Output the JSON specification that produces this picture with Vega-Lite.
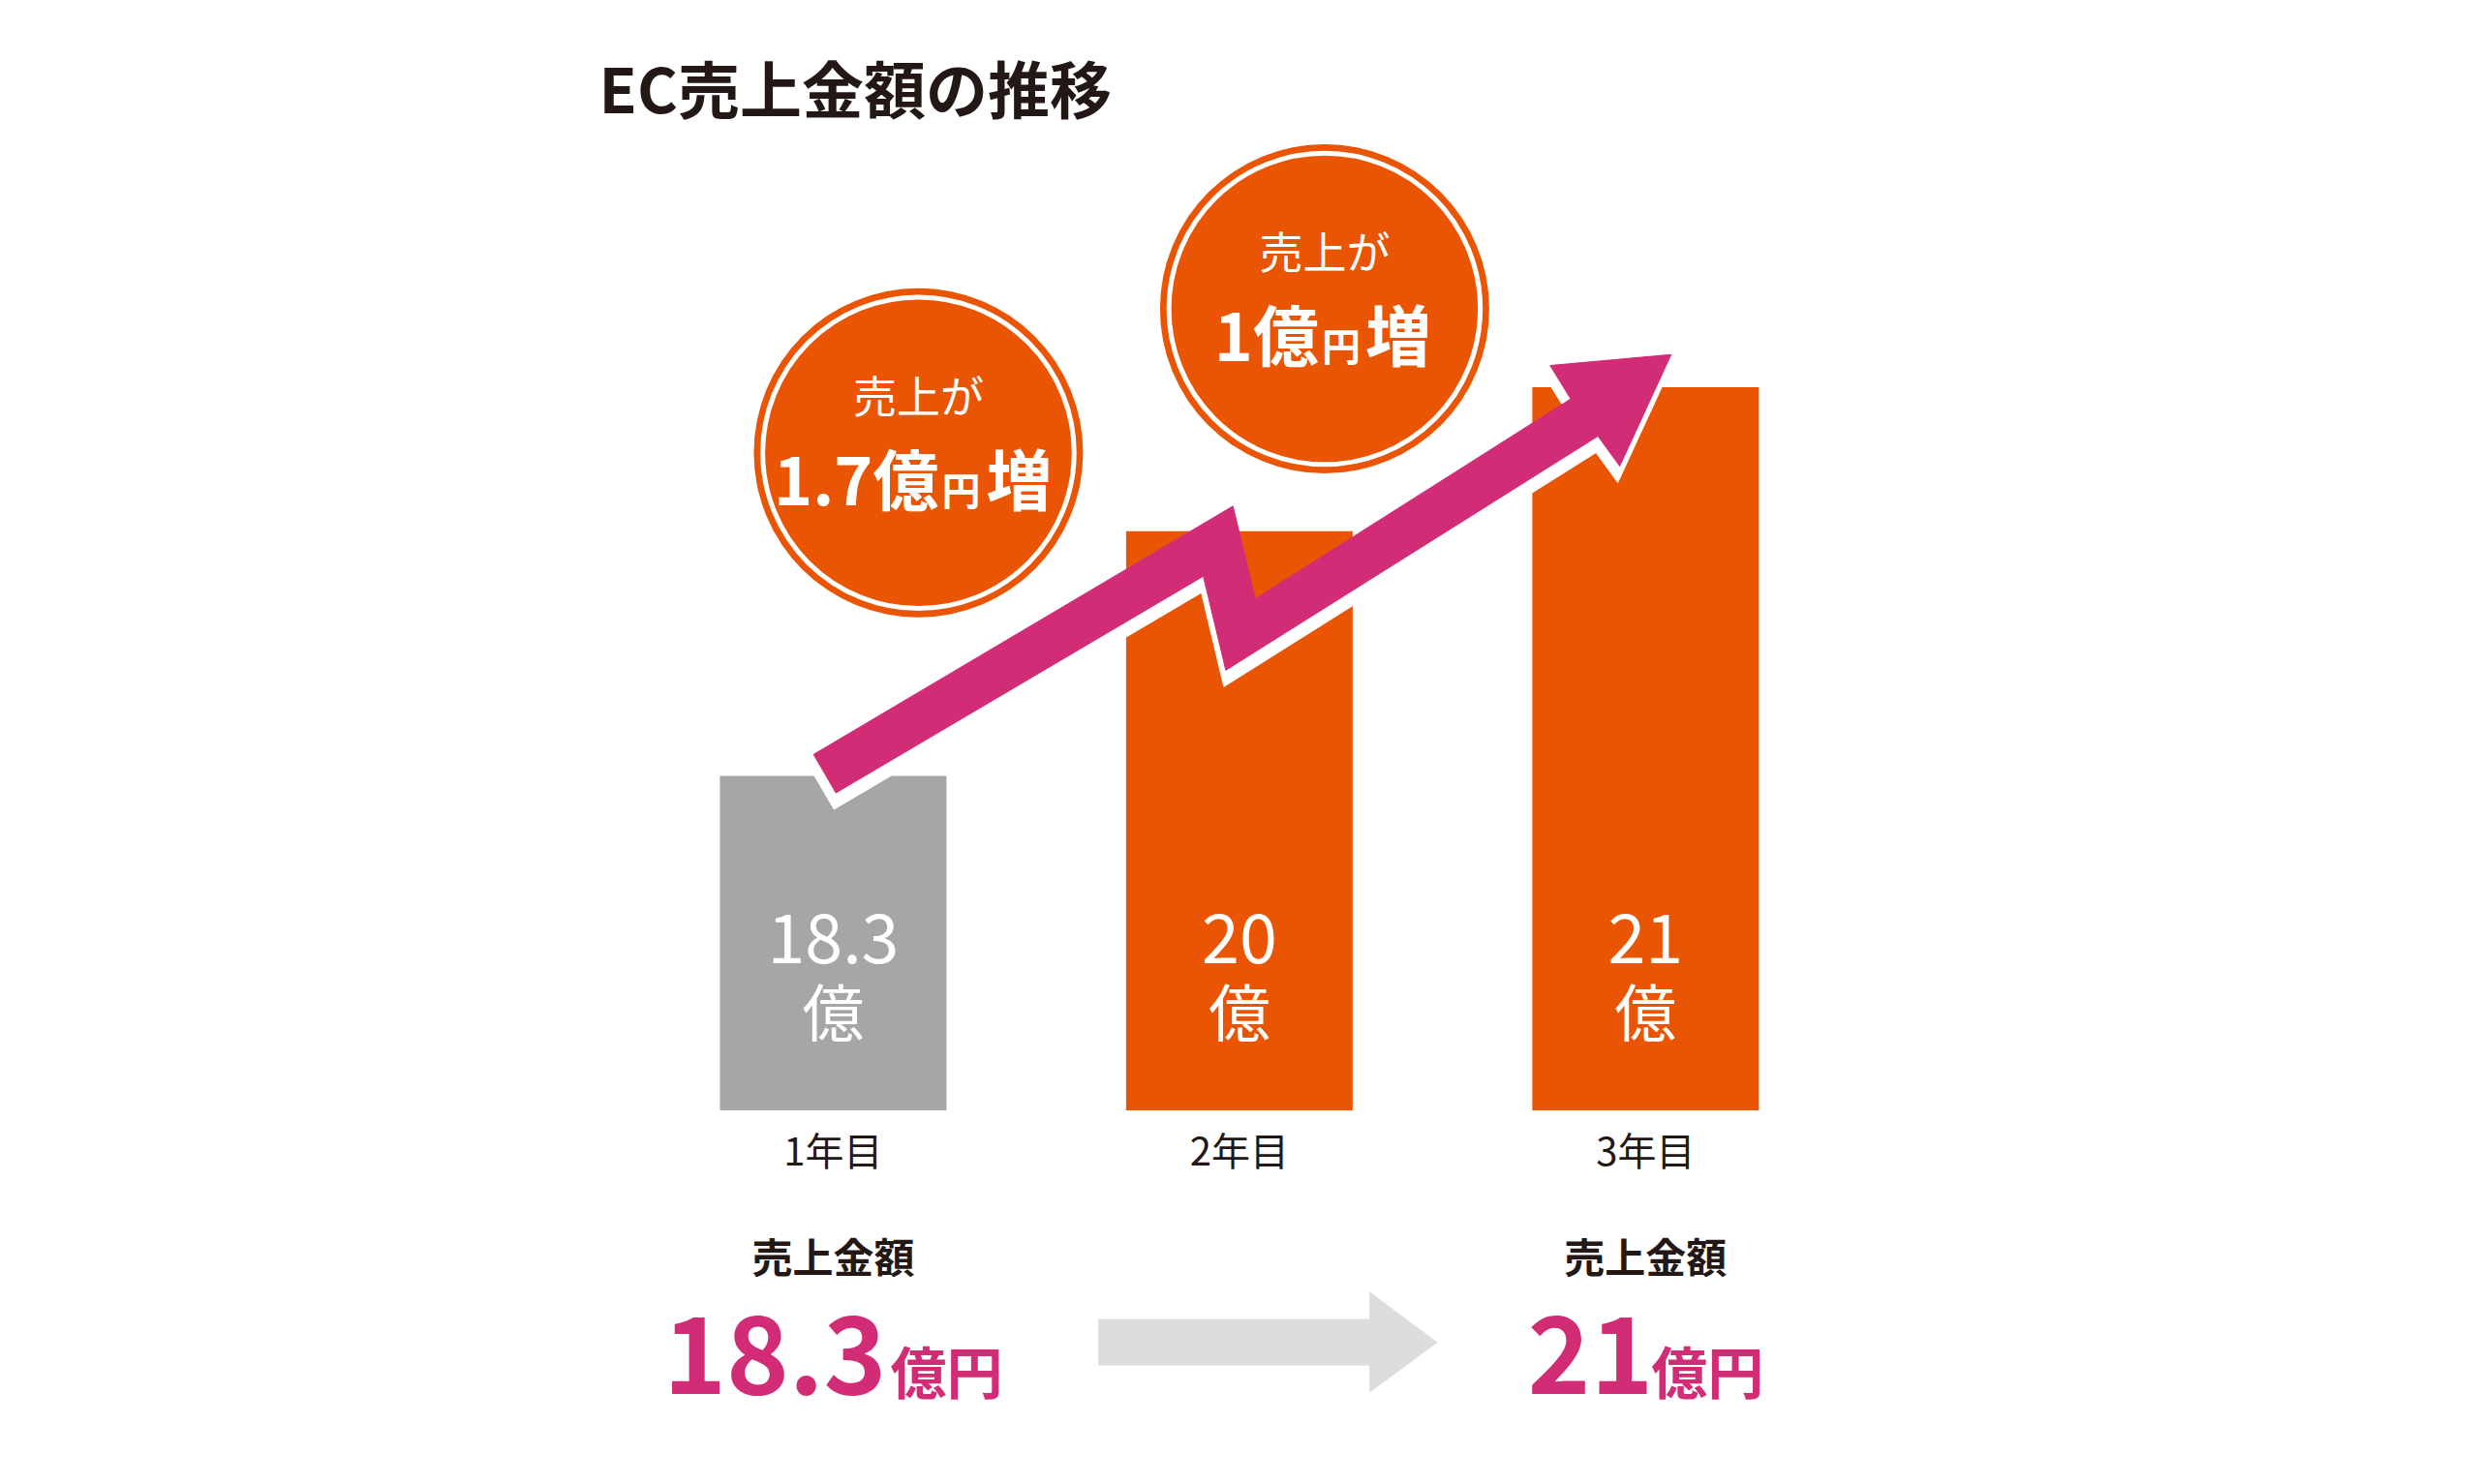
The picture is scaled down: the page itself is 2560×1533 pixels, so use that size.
{
  "$schema": "https://vega.github.io/schema/vega-lite/v6.json",
  "width": 2560,
  "height": 1533,
  "padding": 0,
  "autosize": {"type": "fit", "contains": "padding"},
  "background": "white",
  "config": {"view": {"stroke": null}, "text": {"font": "Noto Sans CJK JP"}},
  "datasets": {
    "sales": [
      {"year": 1, "label": "1年目", "value": 18.3, "kind": "before"},
      {"year": 2, "label": "2年目", "value": 20, "kind": "after"},
      {"year": 3, "label": "3年目", "value": 21, "kind": "after"}
    ],
    "gain": [
      {"year": 1, "next": 20, "gain": "1.7億"},
      {"year": 2, "next": 21, "gain": "1億"}
    ],
    "summary": [
      {"year": 1, "amount": "18.3"},
      {"year": 3, "amount": "21"}
    ],
    "trend": [
      {"k": 1, "i": 0.9516, "v": 18.449},
      {"k": 2, "i": 1.0067, "v": 18.182},
      {"k": 3, "i": 1.9112, "v": 19.687},
      {"k": 4, "i": 1.9665, "v": 19.034},
      {"k": 5, "i": 2.8827, "v": 20.660},
      {"k": 6, "i": 2.9364, "v": 20.452},
      {"k": 7, "i": 3.0630, "v": 21.227},
      {"k": 8, "i": 2.7649, "v": 21.151},
      {"k": 9, "i": 2.8157, "v": 20.919},
      {"k": 10, "i": 2.0392, "v": 19.530},
      {"k": 11, "i": 1.9841, "v": 20.174}
    ],
    "step": [
      {"k": 1, "i": 1.6536, "v": 14.524},
      {"k": 2, "i": 2.3209, "v": 14.524},
      {"k": 3, "i": 2.3209, "v": 14.712},
      {"k": 4, "i": 2.4864, "v": 14.365},
      {"k": 5, "i": 2.3209, "v": 14.020},
      {"k": 6, "i": 2.3209, "v": 14.208},
      {"k": 7, "i": 1.6536, "v": 14.208}
    ]
  },
  "layer": [
    {
      "data": {"name": "sales"},
      "mark": {"type": "bar", "width": 234},
      "encoding": {
        "x": {"field": "year", "type": "quantitative", "axis": null,
              "scale": {"domain": [-1.0394, 5.0399], "nice": false, "zero": false}},
        "y": {"field": "value", "type": "quantitative", "axis": null,
              "scale": {"domain": [13.381, 23.69], "nice": false, "zero": false}},
        "y2": {"datum": 15.977},
        "color": {"field": "kind", "type": "nominal", "legend": null,
                  "scale": {"domain": ["before", "after"], "range": ["#a6a6a6", "#ea5504"]}}
      }
    },
    {
      "data": {"name": "sales"},
      "mark": {"type": "text", "fontSize": 70, "color": "white", "baseline": "middle", "dy": -173},
      "encoding": {
        "x": {"field": "year", "type": "quantitative", "axis": null},
        "y": {"datum": 15.977, "type": "quantitative", "axis": null},
        "text": {"field": "value", "type": "quantitative"}
      }
    },
    {
      "data": {"name": "sales"},
      "mark": {"type": "text", "fontSize": 64, "color": "white", "baseline": "middle", "dy": -96},
      "encoding": {
        "x": {"field": "year", "type": "quantitative", "axis": null},
        "y": {"datum": 15.977, "type": "quantitative", "axis": null},
        "text": {"value": "億"}
      }
    },
    {
      "data": {"name": "sales"},
      "mark": {"type": "text", "fontSize": 40, "color": "#231815", "baseline": "middle", "dy": 45},
      "encoding": {
        "x": {"field": "year", "type": "quantitative", "axis": null},
        "y": {"datum": 15.977, "type": "quantitative", "axis": null},
        "text": {"field": "label"}
      }
    },
    {
      "data": {"name": "trend"},
      "mark": {"type": "line", "interpolate": "linear-closed", "fill": "white", "stroke": "white", "strokeWidth": 1, "xOffset": -2, "yOffset": 17},
      "encoding": {
        "x": {"field": "i", "type": "quantitative", "axis": null},
        "y": {"field": "v", "type": "quantitative", "axis": null},
        "order": {"field": "k", "type": "quantitative"}
      }
    },
    {
      "data": {"name": "trend"},
      "mark": {"type": "line", "interpolate": "linear-closed", "fill": "#d32c77", "stroke": "#d32c77", "strokeWidth": 1},
      "encoding": {
        "x": {"field": "i", "type": "quantitative", "axis": null},
        "y": {"field": "v", "type": "quantitative", "axis": null},
        "order": {"field": "k", "type": "quantitative"}
      }
    },
    {
      "data": {"name": "gain"},
      "mark": {"type": "point", "shape": "circle", "filled": true, "fill": "#ea5504", "opacity": 1, "size": 115600, "xOffset": 88, "yOffset": -81},
      "encoding": {
        "x": {"field": "year", "type": "quantitative", "axis": null},
        "y": {"field": "next", "type": "quantitative", "axis": null}
      }
    },
    {
      "data": {"name": "gain"},
      "mark": {"type": "point", "shape": "circle", "filled": false, "stroke": "white", "strokeWidth": 5, "opacity": 1, "size": 103427, "xOffset": 88, "yOffset": -81},
      "encoding": {
        "x": {"field": "year", "type": "quantitative", "axis": null},
        "y": {"field": "next", "type": "quantitative", "axis": null}
      }
    },
    {
      "data": {"name": "gain"},
      "mark": {"type": "text", "fontSize": 45, "color": "white", "baseline": "middle", "xOffset": 88, "yOffset": -81, "dy": -55},
      "encoding": {
        "x": {"field": "year", "type": "quantitative", "axis": null},
        "y": {"field": "next", "type": "quantitative", "axis": null},
        "text": {"value": "売上が"}
      }
    },
    {
      "data": {"name": "gain"},
      "transform": [{"filter": "datum.year === 1"}],
      "mark": {"type": "text", "fontSize": 68, "fontWeight": "bold", "color": "white", "align": "right", "baseline": "alphabetic", "xOffset": 88, "yOffset": -81, "dx": 21, "dy": 54},
      "encoding": {
        "x": {"field": "year", "type": "quantitative", "axis": null},
        "y": {"field": "next", "type": "quantitative", "axis": null},
        "text": {"field": "gain"}
      }
    },
    {
      "data": {"name": "gain"},
      "transform": [{"filter": "datum.year === 1"}],
      "mark": {"type": "text", "fontSize": 40, "fontWeight": "bold", "color": "white", "align": "center", "baseline": "alphabetic", "xOffset": 88, "yOffset": -81, "dx": 44, "dy": 54},
      "encoding": {
        "x": {"field": "year", "type": "quantitative", "axis": null},
        "y": {"field": "next", "type": "quantitative", "axis": null},
        "text": {"value": "円"}
      }
    },
    {
      "data": {"name": "gain"},
      "transform": [{"filter": "datum.year === 1"}],
      "mark": {"type": "text", "fontSize": 68, "fontWeight": "bold", "color": "white", "align": "left", "baseline": "alphabetic", "xOffset": 88, "yOffset": -81, "dx": 70, "dy": 54},
      "encoding": {
        "x": {"field": "year", "type": "quantitative", "axis": null},
        "y": {"field": "next", "type": "quantitative", "axis": null},
        "text": {"value": "増"}
      }
    },
    {
      "data": {"name": "gain"},
      "transform": [{"filter": "datum.year === 2"}],
      "mark": {"type": "text", "fontSize": 68, "fontWeight": "bold", "color": "white", "align": "right", "baseline": "alphabetic", "xOffset": 88, "yOffset": -81, "dx": -6, "dy": 54},
      "encoding": {
        "x": {"field": "year", "type": "quantitative", "axis": null},
        "y": {"field": "next", "type": "quantitative", "axis": null},
        "text": {"field": "gain"}
      }
    },
    {
      "data": {"name": "gain"},
      "transform": [{"filter": "datum.year === 2"}],
      "mark": {"type": "text", "fontSize": 40, "fontWeight": "bold", "color": "white", "align": "center", "baseline": "alphabetic", "xOffset": 88, "yOffset": -81, "dx": 17, "dy": 54},
      "encoding": {
        "x": {"field": "year", "type": "quantitative", "axis": null},
        "y": {"field": "next", "type": "quantitative", "axis": null},
        "text": {"value": "円"}
      }
    },
    {
      "data": {"name": "gain"},
      "transform": [{"filter": "datum.year === 2"}],
      "mark": {"type": "text", "fontSize": 68, "fontWeight": "bold", "color": "white", "align": "left", "baseline": "alphabetic", "xOffset": 88, "yOffset": -81, "dx": 42, "dy": 54},
      "encoding": {
        "x": {"field": "year", "type": "quantitative", "axis": null},
        "y": {"field": "next", "type": "quantitative", "axis": null},
        "text": {"value": "増"}
      }
    },
    {
      "data": {"name": "summary"},
      "mark": {"type": "text", "fontSize": 42, "fontWeight": "bold", "color": "#231815", "baseline": "middle", "dy": 155},
      "encoding": {
        "x": {"field": "year", "type": "quantitative", "axis": null},
        "y": {"datum": 15.977, "type": "quantitative", "axis": null},
        "text": {"value": "売上金額"}
      }
    },
    {
      "data": {"name": "summary"},
      "transform": [{"filter": "datum.year === 1"}],
      "mark": {"type": "text", "fontSize": 110, "fontWeight": "bold", "color": "#d32c77", "align": "right", "baseline": "alphabetic", "dx": 55, "dy": 293},
      "encoding": {
        "x": {"field": "year", "type": "quantitative", "axis": null},
        "y": {"datum": 15.977, "type": "quantitative", "axis": null},
        "text": {"field": "amount"}
      }
    },
    {
      "data": {"name": "summary"},
      "transform": [{"filter": "datum.year === 1"}],
      "mark": {"type": "text", "fontSize": 58, "fontWeight": "bold", "color": "#d32c77", "align": "left", "baseline": "alphabetic", "dx": 59, "dy": 293},
      "encoding": {
        "x": {"field": "year", "type": "quantitative", "axis": null},
        "y": {"datum": 15.977, "type": "quantitative", "axis": null},
        "text": {"value": "億円"}
      }
    },
    {
      "data": {"name": "summary"},
      "transform": [{"filter": "datum.year === 3"}],
      "mark": {"type": "text", "fontSize": 110, "fontWeight": "bold", "color": "#d32c77", "align": "right", "baseline": "alphabetic", "dx": 8, "dy": 293},
      "encoding": {
        "x": {"field": "year", "type": "quantitative", "axis": null},
        "y": {"datum": 15.977, "type": "quantitative", "axis": null},
        "text": {"field": "amount"}
      }
    },
    {
      "data": {"name": "summary"},
      "transform": [{"filter": "datum.year === 3"}],
      "mark": {"type": "text", "fontSize": 58, "fontWeight": "bold", "color": "#d32c77", "align": "left", "baseline": "alphabetic", "dx": 6, "dy": 293},
      "encoding": {
        "x": {"field": "year", "type": "quantitative", "axis": null},
        "y": {"datum": 15.977, "type": "quantitative", "axis": null},
        "text": {"value": "億円"}
      }
    },
    {
      "data": {"name": "step"},
      "mark": {"type": "line", "interpolate": "linear-closed", "fill": "#dddddd", "stroke": "#dddddd", "strokeWidth": 1},
      "encoding": {
        "x": {"field": "i", "type": "quantitative", "axis": null},
        "y": {"field": "v", "type": "quantitative", "axis": null},
        "order": {"field": "k", "type": "quantitative"}
      }
    },
    {
      "data": {"values": [{"title": "EC売上金額の推移"}]},
      "mark": {"type": "text", "fontSize": 64, "fontWeight": "bold", "color": "#231815", "align": "left", "baseline": "middle"},
      "encoding": {
        "x": {"datum": 0.4234, "type": "quantitative", "axis": null},
        "y": {"datum": 23.031, "type": "quantitative", "axis": null},
        "text": {"field": "title"}
      }
    }
  ]
}
